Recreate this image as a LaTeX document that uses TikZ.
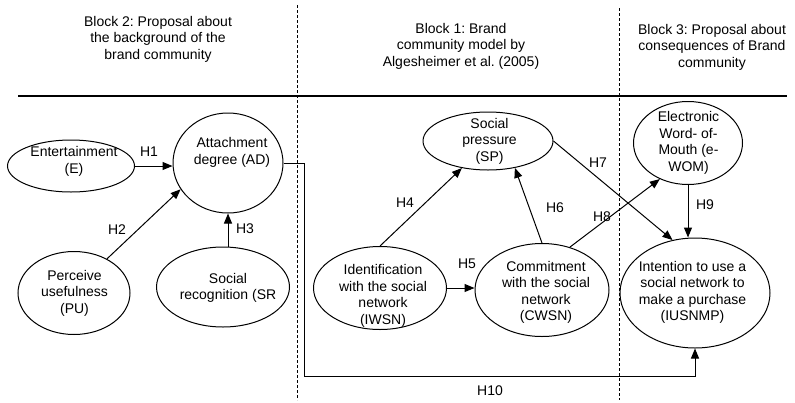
\documentclass[tikz,border=0pt]{standalone}
\usepackage{fontspec}
\setmainfont{Liberation Sans}
\usetikzlibrary{arrows.meta,shapes.geometric}
\frenchspacing
\begin{document}
\begin{tikzpicture}[x=1pt,y=-1pt,
  txt/.style={align=center,inner sep=0pt,font=\fontsize{14}{16.5}\selectfont},
  hyp/.style={inner sep=0pt,font=\fontsize{14}{16.5}\selectfont},
  construct/.style={ellipse,draw,line width=1pt,inner sep=0pt},
  arr/.style={draw,line width=1pt,-{Triangle[length=10pt,width=8pt]}},
  divider/.style={line width=0.8pt,dash pattern=on 3pt off 2pt}]
\useasboundingbox (0,0) rectangle (795,402);

% block headings
\node[txt] (hdtwo) at (158,39) {Block 2: Proposal about\\the background of the\\brand community};
\node[txt] (hdone) at (461,46) {Block 1: Brand\\community model by\\Algesheimer et al. (2005)};
\node[txt] (hdthree) at (712,47) {Block 3: Proposal about\\consequences of Brand\\community};

% separators
\draw[line width=1.2pt] (18,96) -- (787,96);
\draw[divider] (297,5) -- (297,400);
\draw[divider] (619,8) -- (619,400);

% constructs
\node[construct,minimum width=127pt,minimum height=52pt] (e) at (71,166) {};
\node[txt] at (74,161.5) {Entertainment\\(E)};
\node[construct,minimum width=110pt,minimum height=100pt] (ad) at (228,163) {};
\node[txt] at (232,152.5) {Attachment\\degree (AD)};
\node[construct,minimum width=112pt,minimum height=83pt] (pu) at (74,293) {};
\node[txt] at (74.5,293) {Perceive\\usefulness\\(PU)};
\node[construct,minimum width=133pt,minimum height=80pt] (sr) at (223,287) {};
\node[txt] at (228,288) {Social\\recognition (SR};
\node[construct,minimum width=130pt,minimum height=58pt] (sp) at (488,141) {};
\node[txt] at (489.5,141) {Social\\pressure\\(SP)};
\node[construct,minimum width=133pt,minimum height=83pt] (iwsn) at (380,288) {};
\node[txt] at (383,296) {Identification\\with the social\\network\\(IWSN)};
\node[construct,minimum width=134pt,minimum height=93pt] (cwsn) at (542,290) {};
\node[txt] at (546,292.5) {Commitment\\with the social\\network\\(CWSN)};
\node[construct,minimum width=109pt,minimum height=83pt] (ewom) at (688,143) {};
\node[txt] at (688.5,143) {Electronic\\Word- of-\\Mouth (e-\\WOM)};
\node[construct,minimum width=150pt,minimum height=110pt] (iu) at (695,293) {};
\node[txt] at (692.5,292.5) {Intention to use a\\social network to\\make a purchase\\(IUSNMP)};

% hypotheses
\draw[arr] (e.east) -- (e.east -| ad.west);
\draw[arr] (pu.46) -- (ad.209);
\draw[arr] (ad.south |- sr.north) -- (ad.south);
\draw[arr] (iwsn.north) -- (sp.226);
\draw[arr] (iwsn.east) -- (cwsn.west |- iwsn.east);
\draw[arr] (cwsn.north) -- (sp.315);
\draw[arr] (sp.east) -- (iu.113);
\draw[arr] (cwsn.57) -- (ewom.232);
\draw[arr] (ewom.south) -- (ewom.south |- iu.north);
\coordinate (bend) at (304,376);
\draw[arr] (ad.east) -| (bend) -| (iu.south);

\node[hyp] (h1) at (149,152) {H1};
\node[hyp] (h2) at (117,230) {H2};
\node[hyp] (h3) at (245,229) {H3};
\node[hyp] (h4) at (405,203) {H4};
\node[hyp] (h5) at (467,264) {H5};
\node[hyp] (h6) at (555,208) {H6};
\node[hyp] (h7) at (598,163) {H7};
\node[hyp] (h8) at (602,217) {H8};
\node[hyp] (h9) at (705,205) {H9};
\node[hyp] (h10) at (490,391) {H10};
\end{tikzpicture}
\end{document}
